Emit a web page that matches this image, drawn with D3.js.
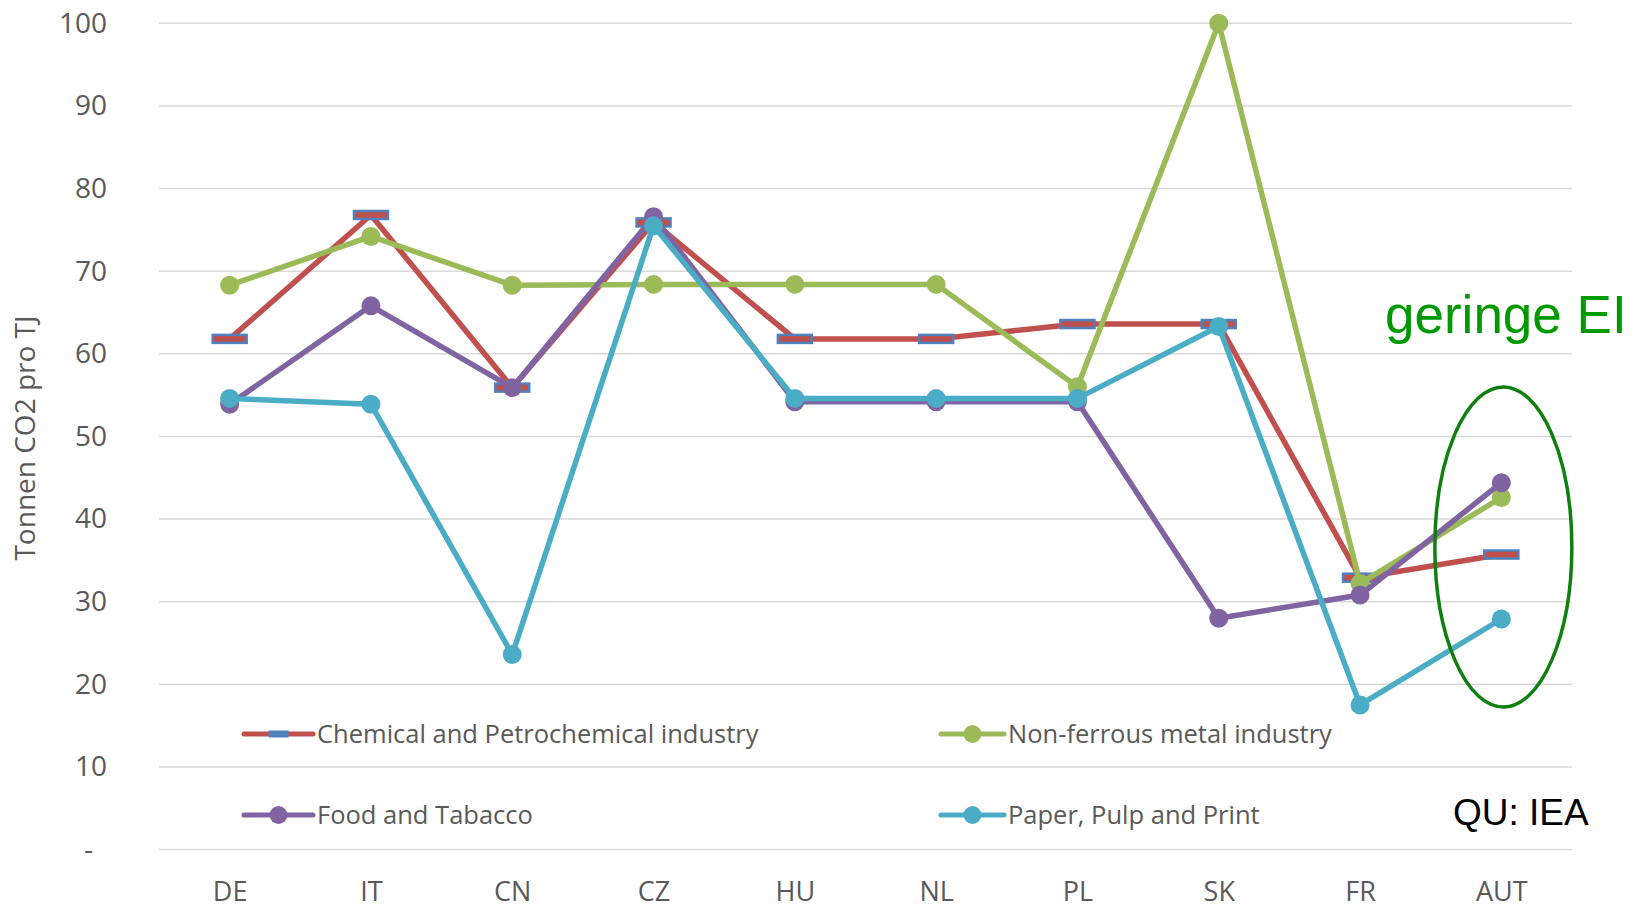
<!DOCTYPE html>
<html>
<head>
<meta charset="utf-8">
<script src="https://cdn.jsdelivr.net/npm/d3@7"></script>
<style>
  body { margin: 0; background: #fff; }
  text { font-family: "Open Sans", sans-serif; }
</style>
</head>
<body>
<div id="svg-container"></div>
<script>
const countries = ["DE", "IT", "CN", "CZ", "HU", "NL", "PL", "SK", "FR", "AUT"];
const chemical = [61.8, 76.8, 55.9, 75.9, 61.8, 61.8, 63.6, 63.6, 32.9, 35.7];
const nonFerrous = [68.3, 74.2, 68.3, 68.4, 68.4, 68.4, 56.0, 100, 32.2, 42.6];
const food = [53.9, 65.8, 55.9, 76.6, 54.2, 54.2, 54.2, 28.0, 30.8, 44.4];
const paper = [54.6, 53.9, 23.6, 75.5, 54.6, 54.6, 54.6, 63.3, 17.5, 27.9];
const yTicks = [0, 10, 20, 30, 40, 50, 60, 70, 80, 90, 100];

const series = [
  { name: "Chemical and Petrochemical industry", values: chemical, color: "#C0504D", marker: "rect" },
  { name: "Non-ferrous metal industry", values: nonFerrous, color: "#9BBB59", marker: "circle" },
  { name: "Food and Tabacco", values: food, color: "#8064A2", marker: "circle" },
  { name: "Paper, Pulp and Print", values: paper, color: "#4BACC6", marker: "circle" },
];

const svgWidth = 1640;
const svgHeight = 911;
const plotLeft = 159;
const plotRight = 1572;
const plotTop = 23.3;
const plotBottom = 849.5;

const svg = d3
  .select("#svg-container")
  .append("svg")
  .attr("width", svgWidth)
  .attr("height", svgHeight);

const xScaling = d3.scalePoint().domain(countries).range([plotLeft, plotRight]).padding(0.5);
const yScaling = d3.scaleLinear().domain([0, 100]).range([plotBottom, plotTop]);

// gridlines
svg
  .append("g")
  .selectAll("line")
  .data(yTicks)
  .enter()
  .append("line")
  .attr("x1", plotLeft)
  .attr("x2", plotRight)
  .attr("y1", (d) => yScaling(d))
  .attr("y2", (d) => yScaling(d))
  .attr("stroke", "#D9D9D9")
  .attr("stroke-width", 1.5);

// y axis labels (zero shown as "-", accounting style)
const yAxis = d3
  .axisLeft(yScaling)
  .tickValues(yTicks)
  .tickSize(0)
  .tickPadding(0)
  .tickFormat((d) => (d === 0 ? "-" : d));

svg
  .append("g")
  .attr("class", "y-axis")
  .attr("transform", "translate(107, 0)")
  .call(yAxis)
  .call((g) => g.select(".domain").remove())
  .selectAll("text")
  .style("font-family", "Open Sans")
  .style("font-size", "28px")
  .attr("fill", "#595959")
  .attr("dx", (d) => (d === 0 ? -14 : 0));

// x axis labels
const xAxis = d3.axisBottom(xScaling).tickSize(0).tickPadding(0);

svg
  .append("g")
  .attr("class", "x-axis")
  .attr("transform", "translate(0, 882)")
  .call(xAxis)
  .call((g) => g.select(".domain").remove())
  .selectAll("text")
  .style("font-family", "Open Sans")
  .style("font-size", "27px")
  .attr("fill", "#595959");

svg
  .append("text")
  .attr("transform", "translate(35, 438) rotate(-90)")
  .attr("text-anchor", "middle")
  .style("font-size", "28px")
  .attr("fill", "#595959")
  .text("Tonnen CO2 pro TJ");

const line = d3
  .line()
  .x((d, i) => xScaling(countries[i]))
  .y((d) => yScaling(d));

series.forEach((s) => {
  const g = svg.append("g");
  g.append("path")
    .datum(s.values)
    .attr("d", line)
    .attr("fill", "none")
    .attr("stroke", s.color)
    .attr("stroke-width", 5.5)
    .attr("stroke-linejoin", "round");

  if (s.marker === "rect") {
    g.selectAll("rect")
      .data(s.values)
      .enter()
      .append("rect")
      .attr("x", (d, i) => xScaling(countries[i]) - 17)
      .attr("y", (d) => yScaling(d) - 4)
      .attr("width", 34)
      .attr("height", 8)
      .attr("fill", s.color)
      .attr("stroke", "#4F81BD")
      .attr("stroke-width", 2.5);
  } else {
    g.selectAll("circle")
      .data(s.values)
      .enter()
      .append("circle")
      .attr("cx", (d, i) => xScaling(countries[i]))
      .attr("cy", (d) => yScaling(d))
      .attr("r", 9.5)
      .attr("fill", s.color);
  }
});

// legend
const legendPos = [
  { x: 244, y: 734 },
  { x: 941, y: 734 },
  { x: 244, y: 815 },
  { x: 941, y: 815 },
];

series.forEach((s, i) => {
  const p = legendPos[i];
  const lineLen = i % 2 === 0 ? 69 : 63;
  const lg = svg.append("g").attr("transform", `translate(${p.x}, ${p.y})`);
  lg.append("line")
    .attr("x1", 0)
    .attr("x2", lineLen)
    .attr("stroke", s.color)
    .attr("stroke-width", 5)
    .attr("stroke-linecap", "round");
  if (s.marker === "rect") {
    lg.append("rect")
      .attr("x", lineLen / 2 - 10)
      .attr("y", -3.5)
      .attr("width", 20)
      .attr("height", 7)
      .attr("fill", "#4F81BD");
  } else {
    lg.append("circle")
      .attr("cx", lineLen / 2)
      .attr("r", 9)
      .attr("fill", s.color);
  }
  lg.append("text")
    .attr("x", lineLen + 4)
    .attr("dy", "0.35em")
    .style("font-size", "25.5px")
    .attr("fill", "#595959")
    .text(s.name);
});

// annotations
svg
  .append("ellipse")
  .attr("cx", xScaling("AUT") + 2)
  .attr("cy", 547)
  .attr("rx", 68.5)
  .attr("ry", 160)
  .attr("fill", "none")
  .attr("stroke", "#0F7F0F")
  .attr("stroke-width", 3.5);

svg
  .append("text")
  .attr("x", 1385)
  .attr("y", 333)
  .style("font-family", "Liberation Sans, Arial, sans-serif")
  .style("font-size", "53px")
  .attr("fill", "#009900")
  .text("geringe EI");

svg
  .append("text")
  .attr("x", 1453)
  .attr("y", 825)
  .style("font-family", "Liberation Sans, Arial, sans-serif")
  .style("font-size", "37px")
  .attr("fill", "#000")
  .text("QU: IEA");
</script>
</body>
</html>
